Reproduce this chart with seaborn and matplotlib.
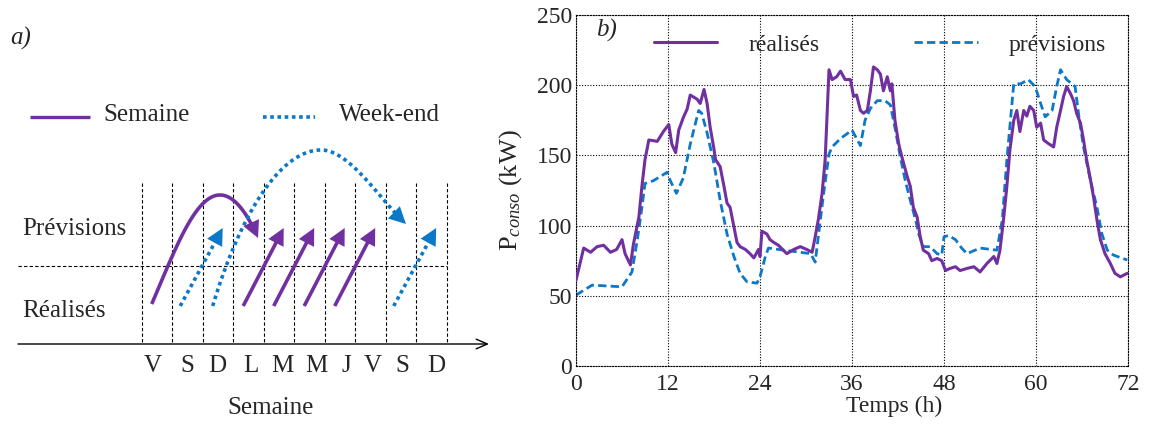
import numpy as np
import pandas as pd
import matplotlib
matplotlib.use("Agg")
import matplotlib.pyplot as plt
import seaborn as sns

# ---------------- data (panel b) ----------------
heures_real = [0, 1.0, 1.9, 2.75, 3.6, 4.5, 5.3, 6.0, 6.4, 7.1, 7.5, 8.2, 8.6, 9.0, 9.5,
               10.6, 11.4, 12.1, 12.5, 13.0, 13.4, 14.0, 14.5, 14.9, 15.8, 16.2, 16.7,
               17.1, 17.5, 17.95, 18.2, 18.8, 19.3, 19.7, 20.1, 20.6, 21.0, 21.4, 22.1,
               22.7, 23.2, 23.8, 24.0, 24.25, 24.9, 25.3, 25.8, 26.4, 27.5, 28.4, 29.25,
               30.1, 30.8, 31.2, 31.6, 32.1, 32.5, 33.0, 33.4, 34.0, 34.5, 35.1, 35.8,
               36.2, 36.6, 37.1, 37.5, 38.0, 38.4, 38.8, 39.3, 39.7, 40.1, 40.6, 41.0,
               41.2, 41.6, 42.1, 42.5, 43.2, 43.6, 44.0, 44.5, 44.9, 45.3, 46.0, 46.4,
               47.1, 47.7, 48.2, 48.8, 49.5, 50.1, 51.0, 51.9, 52.7, 53.6, 54.5, 54.9,
               55.3, 55.8, 56.2, 56.6, 57.1, 57.5, 57.9, 58.4, 58.8, 59.2, 59.7, 60.1,
               60.6, 61.0, 61.6, 62.3, 62.7, 63.2, 63.6, 64.0, 64.5, 64.9, 65.3, 65.8,
               66.2, 66.6, 67.1, 67.5, 67.95, 68.4, 69.0, 69.7, 70.3, 71.0, 71.9]
p_real = [61, 84, 81, 85, 86, 81, 83, 90, 80, 72, 87, 106, 128, 147, 161,
          160, 167, 172, 158, 152, 168, 177, 183, 193, 190, 187, 197,
          187, 170, 156, 147, 142, 128, 116, 113, 99, 88, 85, 83,
          80, 77, 83, 78, 96, 94, 90, 88, 86, 80, 83, 85,
          83, 81, 92, 104, 123, 147, 211, 204, 206, 210, 204, 204,
          192, 193, 182, 180, 182, 196, 213, 211, 208, 196, 206, 196,
          201, 175, 158, 149, 135, 128, 113, 106, 92, 82.5, 80, 75,
          76.6, 75, 68, 69.5, 70.7, 68, 69.5, 70.7, 67, 73, 78, 73,
          82.5, 106, 128, 154, 175, 182, 167, 182, 178, 185, 182, 170,
          173, 161, 158.5, 156, 170, 182, 192, 199, 194, 189, 180, 173,
          161, 147, 133, 120.5, 104, 90, 80, 73, 66, 63.5, 66]

heures_prev = [0, 2.1, 6.0, 7.3, 8.0, 8.6, 9.0, 10.1, 11.9, 12.3, 13.1, 14.0, 14.9,
               16.0, 16.4, 17.1, 18.0, 18.8, 19.7, 20.6, 21.4, 22.3, 23.6, 24.0, 24.7,
               25.1, 27.1, 29.25, 30.6, 31.2, 31.6, 32.3, 33.0, 33.4, 34.5, 36.0, 37.1,
               37.7, 38.4, 39.3, 40.3, 41.0, 41.6, 42.3, 42.95, 43.6, 44.3, 44.7, 45.3,
               46.2, 47.1, 47.7, 48.0, 48.6, 49.5, 50.3, 51.0, 52.7, 54.9, 55.6, 56.2,
               56.9, 57.1, 58.0, 59.0, 59.9, 60.6, 61.2, 62.1, 62.7, 63.2, 64.0, 65.1,
               65.6, 66.2, 67.1, 67.95, 68.6, 69.3, 70.1, 71.9]
p_prev = [50.5, 57.6, 56.4, 67, 90, 113, 130, 132, 138, 132, 123, 134, 158,
          182, 180, 166, 144, 118, 94, 78, 66, 60, 59, 63.5, 78,
          84, 82.5, 81, 80, 74, 92, 123, 151, 156, 162, 168, 157,
          175, 183.5, 189, 189, 186, 170, 149, 132, 118, 104, 94, 85,
          85, 80, 79, 92, 93, 90, 84, 80, 84, 82.5, 104, 147,
          189, 201, 201, 204, 199, 187, 177.5, 182, 199, 211, 204, 199,
          177.5, 156, 132, 113, 94, 82.5, 79, 75.5]

x_ticks = [0, 12, 24, 36, 48, 60, 72]
y_ticks = [0, 50, 100, 150, 200, 250]

# ---------------- data (panel a, schematic) ----------------
jours = ["V", "S", "D", "L", "M", "M", "J", "V", "S", "D"]
fleches_semaine = [3, 4, 5, 6]      # straight solid arrows (day index)
fleches_weekend = [1, 8]            # straight dotted arrows (day index)

VIOLET = "#7030A0"
BLEU = "#0B78C8"

sns.set_style("white")
plt.rcParams["font.family"] = ["Liberation Serif", "DejaVu Serif"]
plt.rcParams["mathtext.fontset"] = "custom"
plt.rcParams["mathtext.rm"] = "Liberation Serif"
plt.rcParams["mathtext.it"] = "Liberation Serif:italic"

W, H = 1156, 424
fig = plt.figure(figsize=(W / 100, H / 100), dpi=100)

# ================= panel a =================
axa = fig.add_axes([0, 0, 500 / W, 1])
axa.set_xlim(0, 500)
axa.set_ylim(H, 0)
axa.axis("off")

FS_A = 18
axa.text(10, 38, "a)", fontsize=FS_A, style="italic", va="center", ha="left")

# legend
axa.plot([30, 90], [117, 117], color=VIOLET, lw=2.4, solid_capstyle="butt")
axa.text(103, 115, "Semaine", fontsize=FS_A, va="center", ha="left")
axa.plot([263, 315], [117, 117], color=BLEU, lw=2.6, linestyle=(0, (1, 1)))
axa.text(339, 115, "Week-end", fontsize=FS_A, va="center", ha="left")

x0, step = 141.7, 30.5
bounds = x0 + step * np.arange(len(jours) + 1)
y_top, y_axis, y_mid = 183, 344, 266
for b in bounds:
    axa.plot([b, b], [y_top, y_axis], color="black", lw=0.8, linestyle=(0, (3, 2)))
axa.plot([18, bounds[-1]], [y_mid, y_mid], color="black", lw=0.8, linestyle=(0, (3, 2)))
axa.annotate("", xy=(489, y_axis), xytext=(18, y_axis),
             arrowprops=dict(arrowstyle="->,head_length=0.8,head_width=0.35",
                             color="black", lw=1.0, shrinkA=0, shrinkB=0))

label_x = [153, 187, 217, 251, 282, 316, 346, 373, 402, 436]
for xx, j in zip(label_x, jours):
    axa.text(xx, 366, j, fontsize=FS_A, ha="center", va="center")
axa.text(271, 408, "Semaine", fontsize=FS_A, ha="center", va="center")
axa.text(22, 229, "Prévisions", fontsize=FS_A, ha="left", va="center")
axa.text(22, 311, "Réalisés", fontsize=FS_A, ha="left", va="center")


def head(ax, tip, frm, color):
    ax.annotate("", xy=tip, xytext=frm,
                arrowprops=dict(arrowstyle="-|>,head_length=0.55,head_width=0.28",
                                color=color, lw=0, mutation_scale=22,
                                shrinkA=0, shrinkB=0))


def bez(p0, p1, p2, p3, n=60):
    t = np.linspace(0, 1, n)[:, None]
    P = [np.array(p) for p in (p0, p1, p2, p3)]
    return ((1 - t) ** 3) * P[0] + 3 * ((1 - t) ** 2) * t * P[1] + 3 * (1 - t) * t ** 2 * P[2] + t ** 3 * P[3]


def arrow_path(ax, pts, color, ls, lw):
    pts = np.asarray(pts)
    tip = pts[-1]
    d = pts[-1] - pts[-4]
    d = d / np.hypot(*d)
    cut = tip - d * 9
    # keep points before cut
    dist = np.hypot(*(pts - tip).T)
    keep = pts[dist > 9]
    line = np.vstack([keep, cut])
    ax.plot(line[:, 0], line[:, 1], color=color, lw=lw, linestyle=ls,
            solid_capstyle="butt")
    head(ax, tuple(tip), tuple(tip - d * 20), color)


y_lo, y_hi = 306, 228
for i in fleches_semaine:
    s = np.array([bounds[i] + 10, y_lo])
    e = np.array([bounds[i + 1] + 20, y_hi])
    pts = s + (e - s) * np.linspace(0, 1, 20)[:, None]
    arrow_path(axa, pts, VIOLET, "-", 2.6)
for i in fleches_weekend:
    s = np.array([bounds[i] + 8, y_lo])
    e = np.array([bounds[i + 1] + 20, y_hi])
    pts = s + (e - s) * np.linspace(0, 1, 20)[:, None]
    arrow_path(axa, pts, BLEU, (0, (1, 1)), 2.6)

# curved solid arrow (Friday -> Monday)
c1 = bez((bounds[0] + 10, 304), (175, 250), (195, 195), (220, 195))
c2 = bez((220, 195), (235, 195), (248, 215), (258, 238))
arrow_path(axa, np.vstack([c1, c2[1:]]), VIOLET, "-", 2.6)
# curved dotted arrow (Sunday -> next Saturday)
d1 = bez((bounds[2] + 10, 306), (240, 215), (280, 150), (321, 150))
d2 = bez((321, 150), (350, 150), (380, 200), (406, 224))
arrow_path(axa, np.vstack([d1, d2[1:]]), BLEU, (0, (1, 1)), 2.6)

# ================= panel b =================
left, right, top, bottom = 576, 1128, 15, 366
axb = fig.add_axes([left / W, (H - bottom) / H, (right - left) / W, (bottom - top) / H])

df_real = pd.DataFrame({"Temps (h)": heures_real, "P": p_real})
df_prev = pd.DataFrame({"Temps (h)": heures_prev, "P": p_prev})
sns.lineplot(data=df_real, x="Temps (h)", y="P", ax=axb, color=VIOLET, lw=2.2,
             estimator=None, sort=False, label="réalisés", zorder=3)
sns.lineplot(data=df_prev, x="Temps (h)", y="P", ax=axb, color=BLEU, lw=2.0,
             linestyle=(0, (3, 1.5)), estimator=None, sort=False,
             label="prévisions", zorder=2)

axb.set_xlim(0, 72)
axb.set_ylim(0, 250)
axb.set_xticks(x_ticks)
axb.set_yticks(y_ticks)
FS_B = 17
axb.tick_params(axis="both", length=0, labelsize=FS_B)
axb.tick_params(axis="x", pad=6)
axb.tick_params(axis="y", pad=3)
axb.grid(True, color="black", lw=0.8, linestyle=(0, (1, 1.5)))
axb.set_axisbelow(True)
for sp in axb.spines.values():
    sp.set_linestyle((0, (1, 1.5)))
    sp.set_linewidth(0.8)
    sp.set_color("black")

axb.set_xlabel("Temps (h)", fontsize=FS_B)
axb.xaxis.set_label_coords(0.576, -0.085)
axb.set_ylabel("P$_{conso}$ (kW)", fontsize=FS_B + 2)
axb.yaxis.set_label_coords(-0.095, 0.5)

axb.text(0.036, 0.957, "b)", transform=axb.transAxes, fontsize=FS_B + 1,
         style="italic", ha="left", va="center")
axb.legend(loc="center", bbox_to_anchor=(0.55, 0.915), ncol=2, frameon=False,
           fontsize=FS_B, handlelength=2.7, handletextpad=1.3, columnspacing=4.0)

fig.savefig("out.png", dpi=100)
